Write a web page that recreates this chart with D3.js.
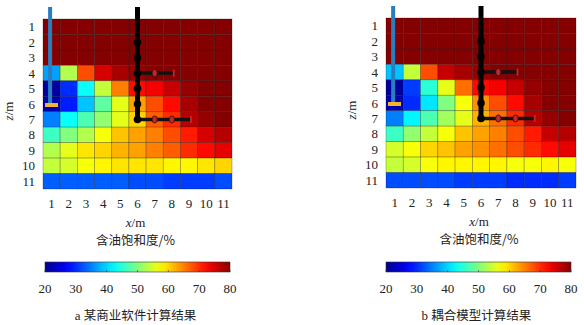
<!DOCTYPE html>
<html>
<head>
<meta charset="utf-8">
<script src="https://cdn.jsdelivr.net/npm/d3@7"></script>
<style>
  body { margin: 0; background: #fff; }
</style>
</head>
<body>
<div id="chart"></div>
<script>
// oil saturation (%) by row z=1..11 (top to bottom), columns x=1..11
const satA = [
  [80, 80, 80, 80, 80, 80, 80, 80, 80, 80, 80],
  [80, 80, 80, 80, 80, 80, 80, 80, 80, 80, 80],
  [80, 80, 80, 80, 80, 80, 80, 80, 80, 80, 80],
  [37, 53, 68, 75, 78, 79, 80, 80, 80, 80, 80],
  [21, 30, 43, 54, 65, 72, 73, 76, 79, 80, 80],
  [22, 29, 39, 48, 56, 63, 68, 72, 78, 80, 80],
  [35, 43, 47, 51, 56, 60, 67, 70, 77, 79, 80],
  [46, 50, 53, 57, 61, 63, 65, 68, 71, 75, 77],
  [53, 56, 59, 60, 62, 63, 65, 67, 70, 72, 74],
  [54, 55, 57, 58, 59, 59, 59, 58, 58, 59, 60],
  [33, 33, 33, 33, 33, 32, 32, 31, 31, 31, 32]
];
const satB = [
  [80, 80, 80, 80, 80, 80, 80, 80, 80, 80, 80],
  [80, 80, 80, 80, 80, 80, 80, 80, 80, 80, 80],
  [80, 80, 80, 80, 80, 80, 80, 80, 80, 80, 80],
  [39, 54, 68, 76, 78, 79, 80, 80, 80, 80, 80],
  [21, 31, 45, 56, 66, 72, 73, 76, 79, 80, 80],
  [22, 30, 41, 50, 57, 64, 68, 72, 78, 80, 80],
  [35, 42, 47, 52, 56, 62, 66, 70, 77, 79, 80],
  [46, 51, 54, 57, 61, 63, 65, 68, 71, 76, 77],
  [55, 57, 60, 61, 63, 64, 66, 68, 70, 72, 74],
  [54, 55, 57, 58, 58, 58, 58, 57, 57, 58, 57],
  [32, 32, 32, 32, 31, 31, 31, 30, 30, 30, 31]
];
const xTicks = [1, 2, 3, 4, 5, 6, 7, 8, 9, 10, 11];
const zTicks = [1, 2, 3, 4, 5, 6, 7, 8, 9, 10, 11];
const cbTicks = [20, 30, 40, 50, 60, 70, 80];
const captions = [["a", "某商业软件计算结果"], ["b", "耦合模型计算结果"]];

// wells, in grid cells
const injCol = 1, injBottom = 6;
const prodCol = 6, prodBottom = 7;
const prodDots = [2, 3, 4, 5, 6, 7];
const branches = [{row: 4, end: 8}, {row: 7, end: 9}];

const serif = '"Liberation Serif", "DejaVu Serif", serif';
const cjk = '"Noto Sans CJK SC", sans-serif';

const W = 584, H = 325;
const svg = d3.select("#chart").append("svg")
    .attr("width", W).attr("height", H);

// jet colormap over 20..80
const jet = d3.scaleLinear()
    .domain([20, 27.5, 42.5, 57.5, 72.5, 80])
    .range(["#00008f", "#0000ff", "#00ffff", "#ffff00", "#ff0000", "#850000"])
    .clamp(true);

const defs = svg.append("defs");
const grad = defs.append("linearGradient").attr("id", "jetgrad");
d3.range(0, 1.0001, 0.05).forEach(t => {
    grad.append("stop").attr("offset", t).attr("stop-color", jet(20 + 60 * t));
});

function label(g, x, y, anchor, size, family) {
    return g.append("text").attr("x", x).attr("y", y)
        .attr("text-anchor", anchor).attr("font-size", size)
        .attr("font-family", family).attr("fill", "#222");
}

function panel(data, left, right, top, bottom, cbLeft, cbRight, caption) {
    const g = svg.append("g");
    const x = d3.scaleBand().domain(xTicks).range([left, right]);
    const z = d3.scaleBand().domain(zTicks).range([top, bottom]);

    data.forEach((row, i) => {
        row.forEach((v, j) => {
            g.append("rect")
             .attr("x", x(xTicks[j])).attr("y", z(zTicks[i]))
             .attr("width", x.bandwidth()).attr("height", z.bandwidth())
             .attr("fill", jet(v))
             .attr("stroke", "rgba(0,0,0,0.35)").attr("stroke-width", 0.7);
        });
    });

    // axis labels
    zTicks.forEach(t => {
        label(g, left - 8, z(t) + z.bandwidth() / 2 + 4.5, "end", 13, serif).text(t);
    });
    xTicks.forEach(t => {
        label(g, x(t) + x.bandwidth() / 2, bottom + 19, "middle", 13, serif).text(t);
    });
    label(g, 0, 0, "middle", 13, serif)
     .attr("transform", `translate(${left - 30},${(top + bottom) / 2 + 7}) rotate(-90)`)
     .html('<tspan font-style="italic">z</tspan>/m');
    label(g, (left + right) / 2 - 2, bottom + 38, "middle", 13, serif)
     .html('<tspan font-style="italic">x</tspan>/m');
    label(g, (left + right) / 2 - 2, bottom + 56, "middle", 12.5, cjk).text("含油饱和度/%");

    // injection well
    const cx = c => x(c) + x.bandwidth() / 2;
    const cz = r => z(r) + z.bandwidth() / 2;
    g.append("rect").attr("x", cx(injCol) - 3.5).attr("y", top - 12)
     .attr("width", 4).attr("height", cz(injBottom) - top + 12)
     .attr("fill", "#2a7ec0");
    g.append("rect").attr("x", x(injCol) + 2).attr("y", cz(injBottom) - 1)
     .attr("width", 13).attr("height", 4).attr("fill", "#f5b331");

    // horizontal branches
    branches.forEach(b => {
        g.append("line").attr("x1", cx(prodCol)).attr("x2", cx(b.end) + 2)
         .attr("y1", cz(b.row)).attr("y2", cz(b.row))
         .attr("stroke", "#111").attr("stroke-width", 3.5);
        d3.range(prodCol + 1, b.end).forEach(c => {
            g.append("ellipse").attr("cx", cx(c)).attr("cy", cz(b.row))
             .attr("rx", 2.6).attr("ry", 3.6)
             .attr("fill", "#c0282c").attr("stroke", "#3a0a0a").attr("stroke-width", 0.8);
        });
        g.append("rect").attr("x", cx(b.end) + 1).attr("y", cz(b.row) - 3.5)
         .attr("width", 1.8).attr("height", 7).attr("fill", "#c0282c");
    });

    // production well
    g.append("rect").attr("x", cx(prodCol) - 2.5).attr("y", top - 12)
     .attr("width", 5).attr("height", cz(prodBottom) - top + 12)
     .attr("fill", "#000");
    prodDots.forEach(r => {
        g.append("circle").attr("cx", cx(prodCol)).attr("cy", cz(r))
         .attr("r", 3.8).attr("fill", "#000");
    });

    // colorbar
    const cb = d3.scaleLinear().domain([20, 80]).range([cbLeft, cbRight]);
    g.append("rect").attr("x", cbLeft).attr("y", 262)
     .attr("width", cbRight - cbLeft).attr("height", 10)
     .attr("fill", "url(#jetgrad)").attr("stroke", "#333").attr("stroke-width", 0.6);
    cbTicks.forEach(t => {
        g.append("line").attr("x1", cb(t)).attr("x2", cb(t))
         .attr("y1", 270).attr("y2", 272).attr("stroke", "#333").attr("stroke-width", 0.6);
        label(g, cb(t), 293, "middle", 13, serif).text(t);
    });

    const cap = label(g, (cbLeft + cbRight) / 2 - 2, 320, "middle", 12.5, cjk);
    cap.append("tspan").attr("font-family", serif).attr("font-size", 13).text(caption[0] + "  ");
    cap.append("tspan").text(caption[1]);
}

panel(satA, 43, 232, 19, 189, 45, 230, captions[0]);
panel(satB, 386, 576, 18, 188, 386, 571, captions[1]);
</script>
</body>
</html>
